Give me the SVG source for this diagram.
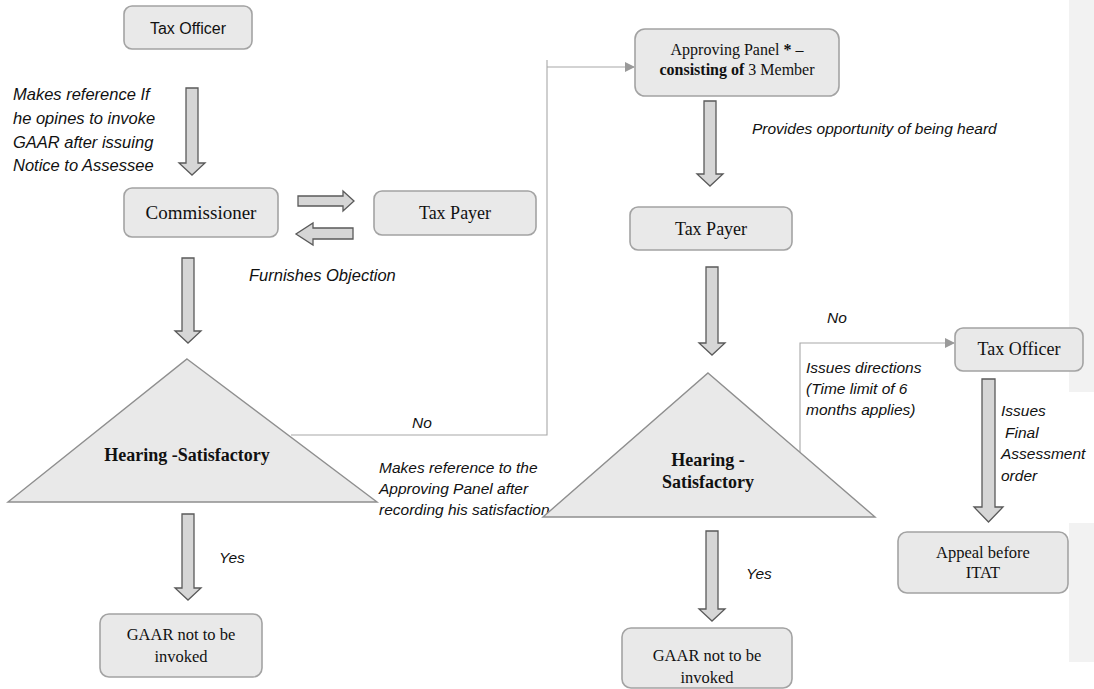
<svg xmlns="http://www.w3.org/2000/svg" width="1094" height="689" viewBox="0 0 1094 689">
<defs>
<style>
.box{fill:#e9e9e9;stroke:#a3a3a3;stroke-width:1.6}
.tri{fill:#e9e9e9;stroke:#8f8f8f;stroke-width:1.4}
.blk{fill:#d6d6d6;stroke:#5a5a5a;stroke-width:1.3;stroke-linejoin:miter}
.con{fill:none;stroke:#a8a8a8;stroke-width:1.1}
.serif{font-family:"Liberation Serif","Times New Roman",serif;fill:#111;text-anchor:middle}
.sans{font-family:"Liberation Sans",Arial,sans-serif;fill:#111;text-anchor:middle}
.it{font-family:"Liberation Sans",Arial,sans-serif;font-style:italic;fill:#111;font-size:15.5px}
.it2{font-size:16.5px}
.b{font-weight:bold}
</style>
<marker id="ah" markerWidth="10" markerHeight="10" refX="9" refY="5" orient="auto" markerUnits="userSpaceOnUse">
<path d="M0,0 L10,5 L0,10 Z" fill="#9a9a9a"/>
</marker>
</defs>
<rect x="1069" y="0" width="25" height="392" fill="#f2f2f2"/>
<rect x="1069" y="523" width="25" height="139" fill="#f2f2f2"/>

<g id="connectors">
<path class="con" d="M291,435 H547 V60 M547,67 H634" marker-end="url(#ah)"/>
<path class="con" d="M800,452 V343 H954" marker-end="url(#ah)"/>
<path class="blk" d="M186,88 H198 V163 H205 L192,175 L179,163 H186 Z"/>
<path class="blk" d="M298,196 H343 V191 L354,201 L343,211 V206 H298 Z"/>
<path class="blk" d="M353,228 H313 V223 L296,234 L313,245 V239 H353 Z"/>
<path class="blk" d="M182,258 H194 V331 H201 L188,343 L175,331 H182 Z"/>
<path class="blk" d="M182,514 H194 V588 H201 L188,600 L175,588 H182 Z"/>
<path class="blk" d="M704,101 H716 V174 H723 L710,186 L697,174 H704 Z"/>
<path class="blk" d="M706,267 H718 V343 H725 L712,355 L699,343 H706 Z"/>
<path class="blk" d="M706,531 H718 V609 H725 L712,621 L699,609 H706 Z"/>
<path class="blk" d="M982,379 H995 V507 H1003 L988.5,522 L974,507 H982 Z"/>
<text class="it it2" x="13" y="100">Makes reference If</text>
<text class="it it2" x="13" y="124">he opines to invoke</text>
<text class="it it2" x="13" y="148">GAAR after issuing</text>
<text class="it it2" x="13" y="171">Notice to Assessee</text>
<text class="it it2" x="249" y="281">Furnishes Objection</text>
<text class="it" x="412" y="428">No</text>
<text class="it" x="379" y="473">Makes reference to the</text>
<text class="it" x="379" y="494">Approving Panel after</text>
<text class="it" x="379" y="515">recording his satisfaction</text>
<text class="it" x="219" y="563">Yes</text>
<text class="it" x="752" y="134">Provides opportunity of being heard</text>
<text class="it" x="827" y="323">No</text>
<text class="it" x="806" y="373">Issues directions</text>
<text class="it" x="806" y="394">(Time limit of 6</text>
<text class="it" x="806" y="415">months applies)</text>
<text class="it" x="1001" y="416">Issues</text>
<text class="it" x="1005" y="438">Final</text>
<text class="it" x="1001" y="459">Assessment</text>
<text class="it" x="1001" y="481">order</text>
<text class="it" x="746" y="579">Yes</text>
</g>

<g id="tax-officer-1">
<rect class="box" x="124" y="6" width="128" height="43" rx="8"/>
<text class="sans" x="188" y="34" font-size="16">Tax Officer</text>
</g>
<g id="commissioner">
<rect class="box" x="124" y="188" width="154" height="49" rx="8"/>
<text class="serif" x="201" y="219" font-size="19">Commissioner</text>
</g>
<g id="tax-payer-1">
<rect class="box" x="374" y="191" width="162" height="44" rx="8"/>
<text class="serif" x="455" y="219" font-size="18">Tax Payer</text>
</g>
<g id="hearing-1">
<path class="tri" d="M187,359 L377,502 L8,502 Z"/>
<text class="serif b" x="187" y="461" font-size="18">Hearing -Satisfactory</text>
</g>
<g id="gaar-1">
<rect class="box" x="100" y="614" width="162" height="63" rx="9"/>
<text class="serif" x="181" y="640" font-size="16.5">GAAR not to be</text>
<text class="serif" x="181" y="662" font-size="16.5">invoked</text>
</g>
<g id="approving-panel">
<rect class="box" x="635" y="29" width="204" height="67" rx="10"/>
<text class="serif" x="737" y="55" font-size="16">Approving Panel <tspan class="b">*</tspan> –</text>
<text class="serif" x="737" y="75" font-size="16"><tspan class="b">consisting of</tspan> 3 Member</text>
</g>
<g id="tax-payer-2">
<rect class="box" x="630" y="207" width="162" height="43" rx="8"/>
<text class="serif" x="711" y="235" font-size="18">Tax Payer</text>
</g>
<g id="hearing-2">
<path class="tri" d="M708,373 L875,517 L543,517 Z"/>
<text class="serif b" x="708" y="466" font-size="18">Hearing -</text>
<text class="serif b" x="708" y="488" font-size="18">Satisfactory</text>
</g>
<g id="gaar-2">
<rect class="box" x="622" y="628" width="170" height="60" rx="9"/>
<text class="serif" x="707" y="661" font-size="16.5">GAAR not to be</text>
<text class="serif" x="707" y="683" font-size="16.5">invoked</text>
</g>
<g id="tax-officer-2">
<rect class="box" x="955" y="328" width="128" height="43" rx="8"/>
<text class="serif" x="1019" y="355" font-size="18">Tax Officer</text>
</g>
<g id="appeal-itat">
<rect class="box" x="898" y="532" width="170" height="61" rx="9"/>
<text class="serif" x="983" y="558" font-size="16.5">Appeal before</text>
<text class="serif" x="983" y="578" font-size="16.5">ITAT</text>
</g>
</svg>
